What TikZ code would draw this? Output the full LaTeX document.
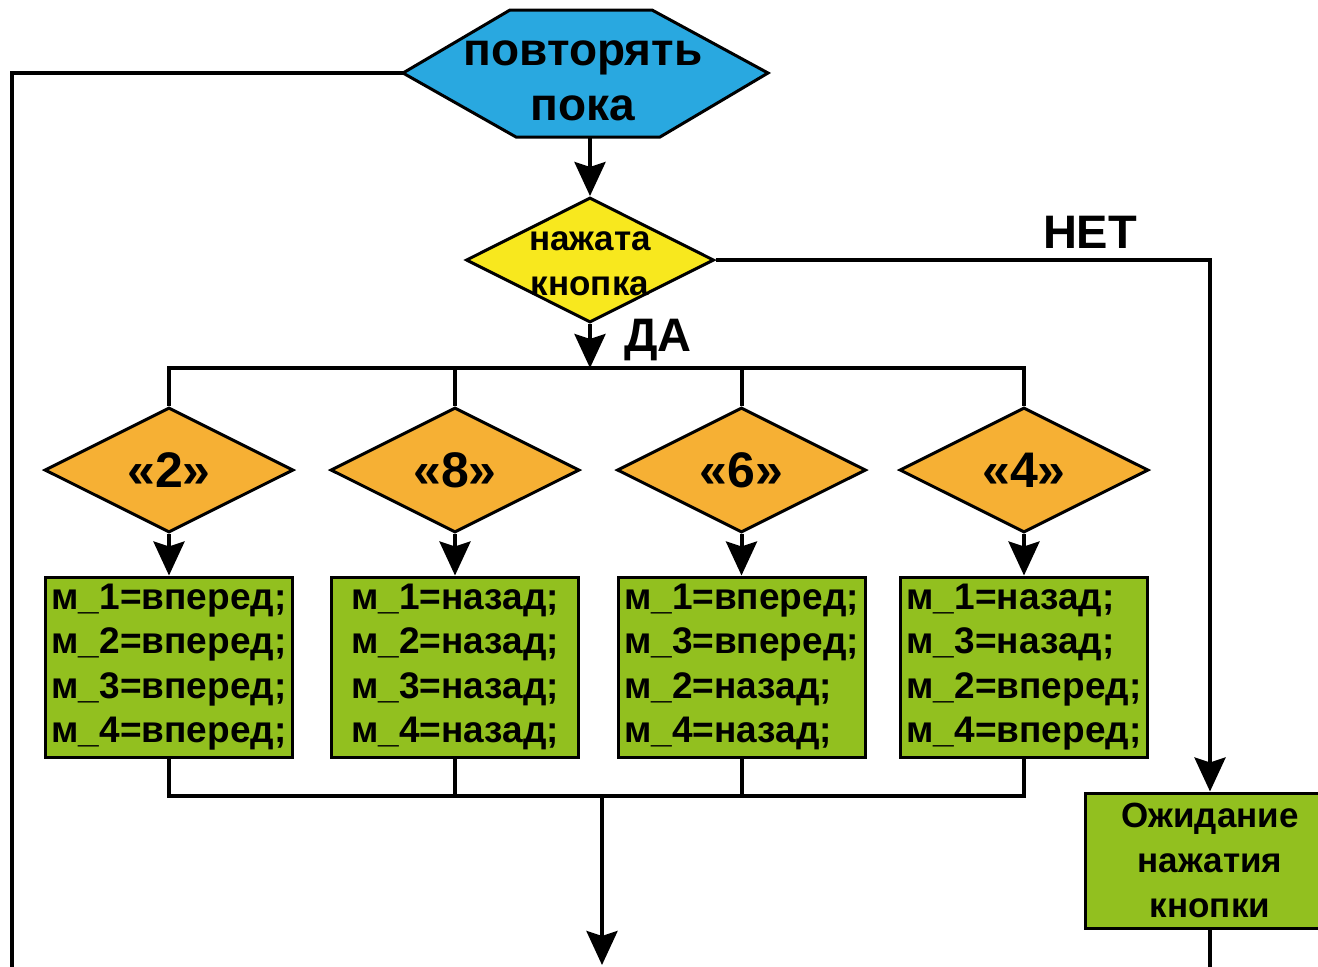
\documentclass[tikz,border=0pt]{standalone}
\usepackage{fontspec}
\setmainfont{Liberation Sans}
\usetikzlibrary{shapes.geometric,arrows.meta}
\definecolor{hexblue}{RGB}{41,168,224}
\definecolor{ylw}{RGB}{248,232,30}
\definecolor{orng}{RGB}{246,176,52}
\definecolor{grn}{RGB}{146,192,31}
\begin{document}
\begin{tikzpicture}[x=0.5pt,y=-0.5pt,
  conn/.style={line width=2pt},
  arr/.style={conn,-{Stealth[length=17pt,width=15.5pt,inset=2.5pt]}},
  shapeline/.style={draw=black,line width=1.5pt},
  orangedia/.style={diamond,shapeline,fill=orng,minimum width=124.5pt,minimum height=62.5pt,inner sep=0pt,font=\bfseries\fontsize{25}{28}\selectfont},
  cmdbox/.style={rectangle,shapeline,fill=grn,minimum width=123.5pt,minimum height=90pt,inner sep=1pt,align=left,font=\bfseries\fontsize{18.5}{22.2}\selectfont},
  lbl/.style={font=\bfseries\fontsize{23.5}{26}\selectfont}
]
\useasboundingbox (0,0) rectangle (1318,966);
\clip (0,0) rectangle (1318,966);

% hexagon
\coordinate (h1) at (510,10);
\coordinate (h2) at (652,10);
\coordinate (h3) at (768,73);
\coordinate (h4) at (660,137);
\coordinate (h5) at (516,137);
\coordinate (hexL) at (403,73);
\coordinate (hexbot) at (590,137);
\filldraw[shapeline,fill=hexblue] (h1) -- (h2) -- (h3) -- (h4) -- (h5) -- (hexL) -- cycle;
\node[align=center,font=\bfseries\fontsize{23}{27.5}\selectfont] (hextext) at (583,81) {повторять\\пока};

% yellow decision
\node[diamond,shapeline,fill=ylw,minimum width=124pt,minimum height=62.5pt,inner sep=0pt] (ydia) at (590,260) {};
\node[align=center,font=\bfseries\fontsize{17.5}{22.5}\selectfont] (ytext) at (590,264) {нажата\\кнопка};

\draw[arr] (hexbot) -- (ydia.north);

% labels
\node[lbl] (net) at (1090,232) {НЕТ};
\node[lbl] (da) at (658,340) {ДА};

% orange diamonds
\node[orangedia] (d1) at (169,470) {«2»};
\node[orangedia] (d2) at (455,470) {«8»};
\node[orangedia] (d3) at (741.5,470) {«6»};
\node[orangedia] (d4) at (1024,470) {«4»};

% green boxes
\node[cmdbox] (b1) at (169,667) {м\_1=вперед;\\м\_2=вперед;\\м\_3=вперед;\\м\_4=вперед;};
\node[cmdbox] (b2) at (455,667) {м\_1=назад;\\м\_2=назад;\\м\_3=назад;\\м\_4=назад;};
\node[cmdbox] (b3) at (741.5,667) {м\_1=вперед;\\м\_3=вперед;\\м\_2=назад;\\м\_4=назад;};
\node[cmdbox] (b4) at (1024,667) {м\_1=назад;\\м\_3=назад;\\м\_2=вперед;\\м\_4=вперед;};

% waiting box
\node[rectangle,shapeline,fill=grn,minimum width=125pt,minimum height=67.5pt,align=center,inner sep=1pt,font=\bfseries\fontsize{17.5}{22.5}\selectfont] (wait) at (1210,860.5) {Ожидание\\нажатия\\кнопки};

% branch bar
\coordinate (barmid) at (590,368);
\draw[arr] (ydia.south) -- (barmid);
\draw[conn] (d1.north) |- (barmid) -| (d4.north);
\draw[conn] (d2.north) -- (d2.north |- barmid);
\draw[conn] (d3.north) -- (d3.north |- barmid);

% diamonds to boxes
\draw[arr] (d1.south) -- (b1.north);
\draw[arr] (d2.south) -- (b2.north);
\draw[arr] (d3.south) -- (b3.north);
\draw[arr] (d4.south) -- (b4.north);

% merge bar
\coordinate (botbar) at (602,796);
\coordinate (botend) at (602,965);
\draw[conn] (b1.south) |- (botbar) -| (b4.south);
\draw[conn] (b2.south) -- (b2.south |- botbar);
\draw[conn] (b3.south) -- (b3.south |- botbar);
\draw[arr] (botbar) -- (botend);

% NO branch
\draw[arr] (ydia.east) -| (wait.north);
\coordinate (waitend) at (1210,975);
\draw[conn] (wait.south) -- (waitend);

% loop line
\coordinate (loopcorner) at (12,73);
\coordinate (loopend) at (12,975);
\draw[conn] (hexL) -- (loopcorner) -- (loopend);
\end{tikzpicture}
\end{document}
